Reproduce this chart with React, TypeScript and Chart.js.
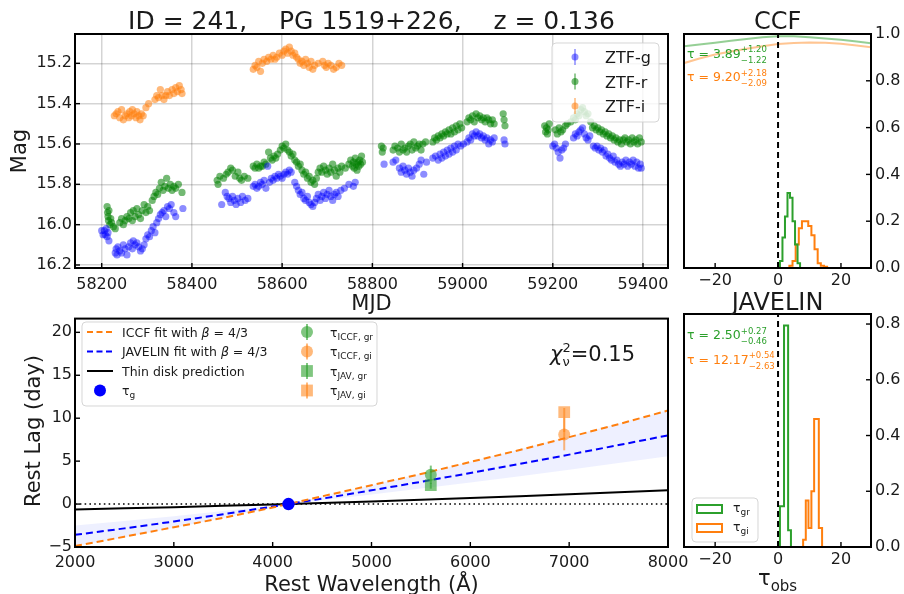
import React, { useEffect, useRef } from "react";
import { Chart, registerables } from "chart.js";

Chart.register(...registerables);

const FAMILY = "'DejaVu Sans', 'Liberation Sans', sans-serif";
const INK = "#1a1a1a";
const GREEN = "#2ca02c";
const ORANGE = "#ff7f0e";
const BLUE = "#0000ff";

// ---------- source ----------
const OBJ_ID = 241;
const OBJ_NAME = "PG 1519+226";
const REDSHIFT = 0.136;

// ---------- ZTF light curves: [MJD, mag] ----------
const ZTF_G: [number, number][] = [
  [58200, 16.03], [58203, 16.05], [58206, 16.03], [58208, 16.05], [58210, 16.02], [58212, 16.06], [58214, 16.04], [58216, 16.08],
  [58230, 16.14], [58232, 16.12], [58234, 16.15], [58236, 16.11], [58240, 16.13], [58244, 16.14], [58248, 16.1], [58252, 16.12],
  [58256, 16.15], [58260, 16.11], [58264, 16.09], [58268, 16.12], [58270, 16.08], [58274, 16.1], [58278, 16.09], [58282, 16.11],
  [58286, 16.13], [58290, 16.12], [58294, 16.1], [58298, 16.07], [58302, 16.05], [58306, 16.06], [58310, 16.03], [58314, 16.01],
  [58318, 16.04], [58322, 15.99], [58326, 15.97], [58330, 15.95], [58334, 15.94], [58338, 15.93], [58342, 15.96], [58346, 15.91],
  [58350, 15.92], [58354, 15.9], [58360, 15.94], [58364, 15.96], [58380, 15.92],
  [58466, 15.9], [58474, 15.84], [58478, 15.86], [58482, 15.87], [58486, 15.89], [58490, 15.86], [58494, 15.88], [58498, 15.9],
  [58502, 15.87], [58508, 15.89], [58512, 15.86], [58518, 15.88], [58524, 15.87], [58536, 15.81], [58540, 15.8], [58544, 15.82],
  [58548, 15.81], [58552, 15.79], [58556, 15.8], [58560, 15.78], [58564, 15.82], [58568, 15.71], [58572, 15.79], [58576, 15.77],
  [58580, 15.78], [58584, 15.76], [58588, 15.77], [58592, 15.75], [58596, 15.76], [58600, 15.77], [58604, 15.75], [58608, 15.74],
  [58612, 15.75], [58616, 15.73], [58620, 15.74], [58628, 15.79], [58632, 15.81], [58636, 15.83], [58640, 15.85], [58644, 15.84],
  [58648, 15.87], [58652, 15.88], [58656, 15.86], [58660, 15.89], [58664, 15.9], [58668, 15.91], [58672, 15.89], [58676, 15.87],
  [58680, 15.85], [58684, 15.88], [58688, 15.86], [58692, 15.84], [58696, 15.87], [58700, 15.85], [58704, 15.83], [58708, 15.86],
  [58712, 15.88], [58716, 15.85], [58720, 15.84], [58724, 15.86], [58730, 15.83], [58738, 15.82], [58748, 15.8], [58758, 15.81],
  [58762, 15.79],
  [58826, 15.7], [58846, 15.69], [58852, 15.68], [58860, 15.72], [58864, 15.74], [58868, 15.71], [58872, 15.73], [58876, 15.75],
  [58880, 15.72], [58884, 15.74], [58888, 15.76], [58892, 15.73], [58898, 15.72], [58904, 15.7], [58908, 15.68], [58914, 15.75],
  [58920, 15.69], [58934, 15.67], [58940, 15.66], [58946, 15.68], [58950, 15.65], [58954, 15.67], [58958, 15.64], [58962, 15.66],
  [58966, 15.63], [58970, 15.65], [58974, 15.62], [58978, 15.64], [58982, 15.61], [58986, 15.63], [58990, 15.6], [58996, 15.61],
  [59002, 15.6], [59010, 15.59], [59014, 15.57], [59018, 15.58], [59022, 15.55], [59026, 15.56], [59030, 15.54], [59034, 15.56],
  [59038, 15.55], [59042, 15.57], [59046, 15.56], [59050, 15.58], [59054, 15.57], [59058, 15.6], [59062, 15.58], [59066, 15.59],
  [59070, 15.57], [59092, 15.58], [59094, 15.6],
  [59200, 15.61], [59204, 15.6], [59208, 15.62], [59212, 15.64], [59216, 15.67], [59220, 15.63], [59224, 15.62], [59228, 15.6],
  [59246, 15.57], [59250, 15.55], [59254, 15.56], [59258, 15.54], [59262, 15.53], [59266, 15.52], [59270, 15.55], [59274, 15.57],
  [59278, 15.58], [59282, 15.56], [59290, 15.61], [59294, 15.62], [59298, 15.61], [59302, 15.63], [59306, 15.62], [59310, 15.64],
  [59314, 15.63], [59318, 15.66], [59322, 15.65], [59326, 15.67], [59330, 15.68], [59334, 15.66], [59338, 15.69], [59342, 15.68],
  [59346, 15.7], [59350, 15.71], [59354, 15.69], [59358, 15.7], [59362, 15.68], [59366, 15.71], [59370, 15.69], [59374, 15.7],
  [59378, 15.68], [59382, 15.71], [59386, 15.69], [59390, 15.72], [59394, 15.7], [59396, 15.72],
];

const ZTF_R: [number, number][] = [
  [58212, 15.91], [58213, 15.94], [58214, 15.96], [58215, 15.98], [58216, 15.93], [58218, 16.0], [58220, 15.97], [58222, 15.99],
  [58226, 16.01], [58230, 16.02], [58240, 15.99], [58244, 15.97], [58248, 16.0], [58252, 15.98], [58256, 15.96], [58260, 15.97],
  [58264, 15.94], [58268, 15.98], [58270, 15.93], [58274, 15.96], [58278, 15.92], [58282, 15.95], [58286, 15.97], [58290, 15.93],
  [58294, 15.9], [58298, 15.94], [58302, 15.91], [58306, 15.93], [58312, 15.88], [58316, 15.86], [58320, 15.84], [58324, 15.85],
  [58328, 15.82], [58332, 15.79], [58336, 15.83], [58340, 15.81], [58344, 15.77], [58348, 15.82], [58352, 15.8], [58356, 15.83],
  [58360, 15.81], [58364, 15.82], [58370, 15.8], [58378, 15.84],
  [58456, 15.78], [58458, 15.8], [58462, 15.76], [58470, 15.77], [58476, 15.75], [58480, 15.74], [58486, 15.72], [58490, 15.73],
  [58496, 15.76], [58502, 15.74], [58506, 15.77], [58510, 15.78], [58516, 15.76], [58524, 15.77], [58536, 15.71], [58540, 15.72],
  [58544, 15.7], [58548, 15.72], [58552, 15.71], [58556, 15.71], [58560, 15.69], [58564, 15.7], [58570, 15.64], [58574, 15.67],
  [58578, 15.68], [58582, 15.66], [58586, 15.67], [58590, 15.65], [58596, 15.63], [58600, 15.61], [58604, 15.62], [58608, 15.6],
  [58612, 15.63], [58616, 15.64], [58620, 15.66], [58624, 15.65], [58628, 15.68], [58632, 15.69], [58636, 15.71], [58640, 15.7],
  [58644, 15.73], [58648, 15.75], [58652, 15.74], [58656, 15.77], [58660, 15.76], [58664, 15.79], [58668, 15.78], [58672, 15.8],
  [58676, 15.77], [58680, 15.74], [58684, 15.72], [58688, 15.74], [58692, 15.71], [58696, 15.73], [58700, 15.75], [58704, 15.72],
  [58708, 15.74], [58712, 15.7], [58716, 15.73], [58720, 15.76], [58724, 15.72], [58728, 15.74], [58732, 15.71], [58740, 15.72],
  [58748, 15.7], [58752, 15.68], [58756, 15.71], [58758, 15.69], [58760, 15.72], [58762, 15.67], [58764, 15.7], [58766, 15.73],
  [58768, 15.69], [58770, 15.71], [58772, 15.68], [58774, 15.7], [58776, 15.66], [58778, 15.69],
  [58820, 15.61], [58822, 15.64], [58824, 15.62], [58846, 15.63], [58850, 15.61], [58856, 15.62], [58860, 15.64], [58864, 15.6],
  [58868, 15.63], [58872, 15.62], [58876, 15.64], [58880, 15.61], [58884, 15.6], [58888, 15.63], [58892, 15.59], [58896, 15.62],
  [58900, 15.61], [58904, 15.6], [58908, 15.63], [58912, 15.6], [58918, 15.59], [58934, 15.59], [58938, 15.57], [58942, 15.58],
  [58946, 15.56], [58950, 15.57], [58954, 15.55], [58958, 15.56], [58962, 15.54], [58966, 15.55], [58970, 15.53], [58974, 15.55],
  [58978, 15.52], [58982, 15.54], [58986, 15.51], [58990, 15.53], [58994, 15.5], [58998, 15.52], [59010, 15.49], [59014, 15.47],
  [59018, 15.48], [59022, 15.46], [59026, 15.49], [59030, 15.45], [59034, 15.47], [59038, 15.46], [59042, 15.48], [59046, 15.47],
  [59050, 15.49], [59054, 15.47], [59058, 15.48], [59062, 15.5], [59066, 15.48], [59070, 15.5], [59090, 15.45], [59092, 15.48],
  [59094, 15.51],
  [59182, 15.51], [59184, 15.54], [59186, 15.52], [59188, 15.55], [59190, 15.53], [59192, 15.5], [59206, 15.53], [59210, 15.55],
  [59214, 15.52], [59218, 15.54], [59222, 15.53], [59228, 15.51], [59232, 15.5], [59240, 15.49], [59246, 15.47], [59250, 15.48],
  [59254, 15.45], [59258, 15.46], [59262, 15.43], [59266, 15.42], [59270, 15.44], [59274, 15.46], [59278, 15.45], [59284, 15.49],
  [59288, 15.52], [59292, 15.51], [59296, 15.53], [59300, 15.52], [59304, 15.54], [59308, 15.53], [59312, 15.55], [59316, 15.54],
  [59320, 15.56], [59324, 15.55], [59328, 15.57], [59332, 15.56], [59336, 15.58], [59340, 15.57], [59344, 15.59], [59348, 15.58],
  [59352, 15.6], [59356, 15.58], [59360, 15.57], [59364, 15.59], [59368, 15.58], [59372, 15.6], [59376, 15.57], [59380, 15.59],
  [59384, 15.58], [59388, 15.6], [59392, 15.57], [59396, 15.59],
];

const ZTF_I: [number, number][] = [
  [58228, 15.46], [58232, 15.45], [58236, 15.44], [58240, 15.47], [58244, 15.43], [58248, 15.48], [58252, 15.46], [58256, 15.45],
  [58260, 15.47], [58262, 15.44], [58266, 15.46], [58268, 15.43], [58272, 15.45], [58276, 15.47], [58278, 15.44], [58282, 15.46],
  [58285, 15.48], [58288, 15.45], [58292, 15.46], [58298, 15.42], [58304, 15.4], [58318, 15.38], [58322, 15.36], [58326, 15.37],
  [58330, 15.33], [58334, 15.36], [58338, 15.38], [58342, 15.36], [58346, 15.34], [58350, 15.36], [58356, 15.33], [58360, 15.35],
  [58364, 15.32], [58368, 15.34], [58372, 15.31], [58376, 15.33], [58378, 15.35],
  [58536, 15.23], [58540, 15.21], [58544, 15.22], [58548, 15.19], [58552, 15.24], [58556, 15.2], [58560, 15.18], [58566, 15.19],
  [58570, 15.17], [58575, 15.18], [58580, 15.16], [58584, 15.18], [58588, 15.17], [58594, 15.15], [58600, 15.16], [58604, 15.14],
  [58608, 15.13], [58612, 15.15], [58616, 15.12], [58620, 15.14], [58624, 15.16], [58628, 15.15], [58632, 15.17], [58636, 15.18],
  [58640, 15.2], [58644, 15.19], [58648, 15.21], [58652, 15.18], [58656, 15.2], [58660, 15.22], [58664, 15.19], [58668, 15.23],
  [58672, 15.21], [58680, 15.2], [58690, 15.19], [58694, 15.21], [58698, 15.22], [58702, 15.2], [58708, 15.21], [58714, 15.23],
  [58720, 15.22], [58726, 15.2], [58732, 15.21],
];

const MJD_TICKS = [58200, 58400, 58600, 58800, 59000, 59200, 59400];
const MAG_TICKS = [15.2, 15.4, 15.6, 15.8, 16.0, 16.2];

// ---------- CCF panel ----------
const CCF_LAGS = [-30, -25, -20, -15, -10, -5, 0, 5, 10, 15, 20, 25, 30];
const CCF_GR = [0.947, 0.955, 0.963, 0.971, 0.979, 0.986, 0.99, 0.99, 0.986, 0.981, 0.975, 0.968, 0.96];
const CCF_GI = [0.875, 0.895, 0.912, 0.925, 0.937, 0.948, 0.957, 0.962, 0.964, 0.963, 0.958, 0.951, 0.943];
const CCF_EDGES_GR = [0.6, 1.4, 2.2, 3.0, 3.8, 4.6, 5.4, 6.2, 7.0];
const CCF_DENS_GR = [0.03, 0.13, 0.22, 0.32, 0.3, 0.2, 0.1, 0.02];
const CCF_EDGES_GI = [3.6, 4.6, 5.6, 6.6, 7.6, 8.6, 9.6, 10.6, 11.6, 12.6, 13.6, 14.6, 15.6];
const CCF_DENS_GI = [0.01, 0.03, 0.1, 0.17, 0.2, 0.2, 0.18, 0.14, 0.08, 0.02, 0.01, 0.005];
const CCF_TAU_GR = [3.89, 1.2, 1.22];
const CCF_TAU_GI = [9.2, 2.18, 2.09];
const OBS_LAG_TICKS = [-20, 0, 20];
const CCF_Y_TICKS = [0, 0.2, 0.4, 0.6, 0.8, 1.0];

// ---------- JAVELIN panel ----------
const JAV_EDGES_GR = [0.6, 1.9, 3.2, 4.1];
const JAV_DENS_GR = [0.146, 0.795, 0.06];
const JAV_EDGES_GI = [7.97, 8.82, 9.67, 10.6, 11.47, 12.96, 14.0];
const JAV_DENS_GI = [0.026, 0.167, 0.068, 0.2, 0.459, 0.068];
const JAV_TAU_GR = [2.5, 0.27, 0.46];
const JAV_TAU_GI = [12.17, 0.54, 2.63];
const JAV_Y_TICKS = [0, 0.2, 0.4, 0.6, 0.8];

// ---------- lag vs wavelength ----------
const LAM_GRID = [2000, 2500, 3000, 3500, 4000, 4500, 5000, 5500, 6000, 6500, 7000, 7500, 8000];
const ICCF_FIT = [-4.9, -3.8, -2.7, -1.6, -0.4, 0.9, 2.2, 3.5, 4.9, 6.3, 7.8, 9.3, 10.9];
const JAV_FIT = [-3.58, -2.83, -2.03, -1.18, -0.29, 0.63, 1.6, 2.59, 3.62, 4.68, 5.76, 6.87, 8.0];
const JAV_BAND_A = [-2.49, -1.97, -1.41, -0.82, -0.2, 0.44, 1.11, 1.8, 2.52, 3.25, 4.01, 4.78, 5.57];
const JAV_BAND_B = [-4.89, -3.87, -2.77, -1.61, -0.4, 0.87, 2.18, 3.54, 4.94, 6.38, 7.86, 9.38, 10.92];
const THIN_DISK = [-0.62, -0.5, -0.36, -0.21, -0.05, 0.12, 0.3, 0.5, 0.7, 0.92, 1.14, 1.37, 1.6];
const LAM_G = 4160;
const LAM_R = 5600;
const LAM_I = 6950;
const CHI2_NU = 0.15;
const WAVE_TICKS = [2000, 3000, 4000, 5000, 6000, 7000, 8000];
const REST_LAG_TICKS = [-5, 0, 5, 10, 15, 20];

// ---------- drawing helpers ----------
type Seg = { t?: string; sup?: string; sub?: string; size: number; italic?: boolean; dy?: number; supDy?: number; subDy?: number };
type Label = { x: number; y: number; segs: Seg[]; align?: "left" | "center" | "right"; color?: string; rot?: number };

const fontOf = (size: number, italic?: boolean) => `${italic ? "italic " : ""}${size}px ${FAMILY}`;
const minus = (s: string) => s.replace(/-/g, "\u2212");

function segWidth(ctx: any, s: Seg) {
  ctx.font = fontOf(s.size, s.italic);
  if (s.t !== undefined) return ctx.measureText(s.t).width;
  return Math.max(s.sup ? ctx.measureText(s.sup).width : 0, s.sub ? ctx.measureText(s.sub).width : 0);
}

function drawRich(ctx: any, l: Label) {
  ctx.save();
  ctx.translate(l.x, l.y);
  if (l.rot) ctx.rotate(l.rot);
  const total = l.segs.reduce((a, s) => a + segWidth(ctx, s), 0);
  let cx = l.align === "center" ? -total / 2 : l.align === "right" ? -total : 0;
  ctx.fillStyle = l.color || INK;
  ctx.textAlign = "left";
  ctx.textBaseline = "alphabetic";
  for (const s of l.segs) {
    const w = segWidth(ctx, s);
    ctx.font = fontOf(s.size, s.italic);
    if (s.t !== undefined) ctx.fillText(s.t, cx, s.dy || 0);
    else {
      if (s.sup) ctx.fillText(s.sup, cx, s.supDy || 0);
      if (s.sub) ctx.fillText(s.sub, cx, s.subDy || 0);
    }
    cx += w;
  }
  ctx.restore();
}

function tauLabel(x: number, y: number, tau: number[], color: string): Label {
  return {
    x, y, color,
    segs: [
      { t: `\u03c4 = ${tau[0].toFixed(2)}`, size: 12.5 },
      { sup: `+${tau[1].toFixed(2)}`, sub: `\u2212${tau[2].toFixed(2)}`, size: 8.5, supDy: -5.5, subDy: 5 },
    ],
  };
}

function legendBox(ctx: any, x: number, y: number, w: number, h: number) {
  ctx.save();
  ctx.beginPath();
  if (ctx.roundRect) ctx.roundRect(x, y, w, h, 4);
  else ctx.rect(x, y, w, h);
  ctx.fillStyle = "rgba(255,255,255,0.8)";
  ctx.fill();
  ctx.strokeStyle = "rgba(204,204,204,0.8)";
  ctx.lineWidth = 1;
  ctx.stroke();
  ctx.restore();
}

function stepOutline(edges: number[], dens: number[]) {
  const pts = [{ x: edges[0], y: 0 }];
  dens.forEach((h, i) => {
    pts.push({ x: edges[i], y: h });
    pts.push({ x: edges[i + 1], y: h });
  });
  pts.push({ x: edges[edges.length - 1], y: 0 });
  return pts;
}

function axis(min: number, max: number, ticks: number[], fmt: (v: number) => string, fit: { w?: number; h?: number }, extra: any = {}) {
  return {
    type: "linear",
    min,
    max,
    ...extra,
    afterBuildTicks: (s: any) => {
      s.ticks = ticks.map((v) => ({ value: v }));
    },
    afterFit: (s: any) => {
      if (fit.w !== undefined) s.width = fit.w;
      if (fit.h !== undefined) s.height = fit.h;
    },
    grid: extra.grid || { display: false, drawTicks: false },
    border: { display: false },
    ticks: {
      font: { family: FAMILY, size: 16 },
      color: INK,
      padding: extra.tickPad ?? 3,
      autoSkip: false,
      maxRotation: 0,
      callback: (v: any) => minus(fmt(Number(v))),
    },
  };
}

function baseOptions(padding: any, scales: any) {
  return {
    responsive: false,
    maintainAspectRatio: false,
    animation: false,
    devicePixelRatio: 1,
    events: [],
    layout: { padding },
    plugins: { legend: { display: false }, tooltip: { enabled: false }, title: { display: false } },
    scales,
  };
}

// frame, inward ticks, labels, and an optional overlay drawn above the data
function decor(id: string, ox: number, oy: number, labels: Label[], overlay?: (chart: any) => void) {
  return {
    id,
    afterDatasetsDraw(chart: any) {
      if (overlay) overlay(chart);
    },
    afterDraw(chart: any) {
      const { ctx, chartArea: a } = chart;
      ctx.save();
      ctx.strokeStyle = "#000";
      ctx.lineWidth = 1.4;
      for (const sc of Object.values(chart.scales) as any[]) {
        for (const t of sc.ticks) {
          const p = sc.getPixelForValue(t.value);
          ctx.beginPath();
          if (sc.isHorizontal()) {
            ctx.moveTo(p, a.bottom);
            ctx.lineTo(p, a.bottom - 5);
          } else if (sc.position === "left") {
            ctx.moveTo(a.left, p);
            ctx.lineTo(a.left + 5, p);
          } else {
            ctx.moveTo(a.right, p);
            ctx.lineTo(a.right - 5, p);
          }
          ctx.stroke();
        }
      }
      ctx.lineWidth = 2;
      ctx.strokeRect(a.left, a.top, a.right - a.left, a.bottom - a.top);
      ctx.restore();
      for (const l of labels) drawRich(ctx, { ...l, x: l.x - ox, y: l.y - oy });
    },
  };
}

// ---------- panel: light curves ----------
function lightCurveConfig(ox: number, oy: number): any {
  const bands = [
    { label: "ZTF-g", pts: ZTF_G, color: "rgba(0,0,255,0.45)" },
    { label: "ZTF-r", pts: ZTF_R, color: "rgba(0,128,0,0.55)" },
    { label: "ZTF-i", pts: ZTF_I, color: "rgba(255,127,14,0.55)" },
  ];
  const overlay = (chart: any) => {
    const ctx = chart.ctx;
    legendBox(ctx, 552 - ox, 43 - oy, 107, 79);
    bands.forEach((b, i) => {
      const y = 57 + i * 24.5 - oy;
      const x = 575 - ox;
      ctx.save();
      ctx.strokeStyle = b.color;
      ctx.lineWidth = 1.5;
      ctx.beginPath();
      ctx.moveTo(x, y - 8);
      ctx.lineTo(x, y + 8);
      ctx.stroke();
      ctx.fillStyle = b.color;
      ctx.beginPath();
      ctx.arc(x, y, 3.5, 0, Math.PI * 2);
      ctx.fill();
      ctx.restore();
      drawRich(ctx, { x: 605 - ox, y: y + 6, segs: [{ t: b.label, size: 16 }] });
    });
  };
  const labels: Label[] = [
    { x: 371.5, y: 29, align: "center", segs: [{ t: `ID = ${OBJ_ID},    ${OBJ_NAME},    z = ${REDSHIFT.toFixed(3)}`, size: 25 }] },
    { x: 26, y: 151, align: "center", rot: -Math.PI / 2, segs: [{ t: "Mag", size: 21 }] },
    { x: 371.5, y: 310, align: "center", segs: [{ t: "MJD", size: 21 }] },
  ];
  const grid = { display: true, color: "rgba(0,0,0,0.17)", lineWidth: 1.5, drawTicks: false };
  return {
    type: "scatter",
    data: {
      datasets: bands.map((b) => ({
        label: b.label,
        data: b.pts.map(([x, y]) => ({ x, y })),
        backgroundColor: b.color,
        borderWidth: 0,
        pointRadius: 3.6,
        pointHoverRadius: 3.6,
      })),
    },
    options: baseOptions(
      { left: 0, top: 34, right: 12, bottom: 0 },
      {
        x: axis(58140.8, 59455.4, MJD_TICKS, (v) => String(v), { h: 48 }, { grid, tickPad: 7 }),
        y: axis(15.0547, 16.2149, MAG_TICKS, (v) => v.toFixed(1), { w: 75 }, { grid, reverse: true }),
      }
    ),
    plugins: [decor("lcDecor", ox, oy, labels, overlay)],
  };
}

// ---------- panels: lag distributions ----------
function zeroLine(ymax: number) {
  return {
    data: [{ x: 0, y: 0 }, { x: 0, y: ymax }],
    borderColor: "#000",
    borderWidth: 2,
    borderDash: [6, 4],
    pointRadius: 0,
    showLine: true,
  };
}
function histLine(edges: number[], dens: number[], color: string) {
  return { data: stepOutline(edges, dens), borderColor: color, borderWidth: 2, pointRadius: 0, showLine: true };
}

function ccfConfig(ox: number, oy: number): any {
  const labels: Label[] = [
    { x: 777.6, y: 29, align: "center", segs: [{ t: "CCF", size: 24 }] },
    tauLabel(687, 57.5, CCF_TAU_GR, GREEN),
    tauLabel(687, 81, CCF_TAU_GI, ORANGE),
  ];
  return {
    type: "scatter",
    data: {
      datasets: [
        zeroLine(1),
        histLine(CCF_EDGES_GR, CCF_DENS_GR, GREEN),
        histLine(CCF_EDGES_GI, CCF_DENS_GI, ORANGE),
        { data: CCF_LAGS.map((x, i) => ({ x, y: CCF_GR[i] })), borderColor: "rgba(44,160,44,0.5)", borderWidth: 2, pointRadius: 0, showLine: true },
        { data: CCF_LAGS.map((x, i) => ({ x, y: CCF_GI[i] })), borderColor: "rgba(255,127,14,0.45)", borderWidth: 2, pointRadius: 0, showLine: true },
      ],
    },
    options: baseOptions(
      { left: 8, top: 34, right: 0, bottom: 0 },
      {
        x: axis(-29.9, 29.55, OBS_LAG_TICKS, (v) => String(v), { h: 24 }),
        y: axis(0, 1, CCF_Y_TICKS, (v) => v.toFixed(1), { w: 33 }, { position: "right", tickPad: 4 }),
      }
    ),
    plugins: [decor("ccfDecor", ox, oy, labels)],
  };
}

function javelinConfig(ox: number, oy: number): any {
  const labels: Label[] = [
    { x: 777.6, y: 310, align: "center", segs: [{ t: "JAVELIN", size: 24 }] },
    tauLabel(687, 339, JAV_TAU_GR, GREEN),
    tauLabel(687, 363.5, JAV_TAU_GI, ORANGE),
    { x: 777.6, y: 585, align: "center", segs: [{ t: "\u03c4", size: 21 }, { t: "obs", size: 15, dy: 6 }] },
  ];
  const overlay = (chart: any) => {
    const ctx = chart.ctx;
    legendBox(ctx, 692 - ox, 498 - oy, 66, 44);
    [[GREEN, "gr"], [ORANGE, "gi"]].forEach(([c, s], i) => {
      const y = 509 + i * 19 - oy;
      ctx.save();
      ctx.strokeStyle = c;
      ctx.lineWidth = 2;
      ctx.strokeRect(697 - ox, y - 4, 25, 8);
      ctx.restore();
      drawRich(ctx, { x: 733 - ox, y: y + 3, segs: [{ t: "\u03c4", size: 12.5 }, { t: s, size: 9, dy: 3 }] });
    });
  };
  return {
    type: "scatter",
    data: {
      datasets: [
        zeroLine(1),
        histLine(JAV_EDGES_GR, JAV_DENS_GR, GREEN),
        histLine(JAV_EDGES_GI, JAV_DENS_GI, ORANGE),
      ],
    },
    options: baseOptions(
      { left: 8, top: 22, right: 0, bottom: 0 },
      {
        x: axis(-29.9, 29.55, OBS_LAG_TICKS, (v) => String(v), { h: 47 }),
        y: axis(0, 0.836, JAV_Y_TICKS, (v) => v.toFixed(1), { w: 33 }, { position: "right", tickPad: 4 }),
      }
    ),
    plugins: [decor("javDecor", ox, oy, labels, overlay)],
  };
}

// ---------- panel: rest-frame lag vs wavelength ----------
function lagConfig(ox: number, oy: number): any {
  const rest = (v: number) => v / (1 + REDSHIFT);
  const greenA = "rgba(44,160,44,0.6)";
  const orangeA = "rgba(255,127,14,0.55)";
  const points = [
    { lam: LAM_R, tau: CCF_TAU_GR, color: greenA, style: "circle", r: 6 },
    { lam: LAM_I, tau: CCF_TAU_GI, color: orangeA, style: "circle", r: 6 },
    { lam: LAM_R, tau: JAV_TAU_GR, color: greenA, style: "rect", r: 8.3 },
    { lam: LAM_I, tau: JAV_TAU_GI, color: orangeA, style: "rect", r: 8.3 },
  ];
  const curve = (ys: number[]) => LAM_GRID.map((x, i) => ({ x, y: ys[i] }));
  const overlay = (chart: any) => {
    const ctx = chart.ctx;
    const xs = chart.scales.x;
    const ys = chart.scales.y;
    // error bars
    for (const p of points) {
      const px = xs.getPixelForValue(p.lam);
      ctx.save();
      ctx.strokeStyle = p.color;
      ctx.lineWidth = 2;
      ctx.beginPath();
      ctx.moveTo(px, ys.getPixelForValue(rest(p.tau[0] + p.tau[1])));
      ctx.lineTo(px, ys.getPixelForValue(rest(p.tau[0] - p.tau[2])));
      ctx.stroke();
      ctx.restore();
    }
    // legend
    const X = (v: number) => v - ox;
    const Y = (v: number) => v - oy;
    legendBox(ctx, X(82), Y(322), 295, 84);
    const rows = [332, 351.5, 371, 390.5];
    const lines: [string, number[]][] = [[ORANGE, [6, 3.5]], [BLUE, [6, 3.5]], ["#000", []]];
    lines.forEach(([c, d], i) => {
      ctx.save();
      ctx.strokeStyle = c;
      ctx.lineWidth = 2;
      ctx.setLineDash(d);
      ctx.beginPath();
      ctx.moveTo(X(87), Y(rows[i]));
      ctx.lineTo(X(113), Y(rows[i]));
      ctx.stroke();
      ctx.restore();
    });
    ctx.save();
    ctx.fillStyle = BLUE;
    ctx.beginPath();
    ctx.arc(X(100), Y(rows[3]), 6, 0, Math.PI * 2);
    ctx.fill();
    ctx.restore();
    const fs = 12.5;
    const left: Seg[][] = [
      [{ t: "ICCF fit with ", size: fs }, { t: "\u03b2", size: fs, italic: true }, { t: " = 4/3", size: fs }],
      [{ t: "JAVELIN fit with ", size: fs }, { t: "\u03b2", size: fs, italic: true }, { t: " = 4/3", size: fs }],
      [{ t: "Thin disk prediction", size: fs }],
      [{ t: "\u03c4", size: fs }, { t: "g", size: 9, dy: 3 }],
    ];
    left.forEach((segs, i) => drawRich(ctx, { x: X(122), y: Y(rows[i] + 4.5), segs }));
    const subs = ["ICCF, gr", "ICCF, gi", "JAV, gr", "JAV, gi"];
    points.forEach((p, i) => {
      const x = X(307);
      const y = Y(rows[i]);
      ctx.save();
      ctx.strokeStyle = p.color;
      ctx.lineWidth = 2;
      ctx.beginPath();
      ctx.moveTo(x, y - 8);
      ctx.lineTo(x, y + 8);
      ctx.stroke();
      ctx.fillStyle = p.color;
      ctx.beginPath();
      if (p.style === "circle") ctx.arc(x, y, 6, 0, Math.PI * 2);
      else ctx.rect(x - 5.9, y - 5.9, 11.8, 11.8);
      ctx.fill();
      ctx.restore();
      drawRich(ctx, { x: X(330), y: Y(rows[i] + 4.5), segs: [{ t: "\u03c4", size: fs }, { t: subs[i], size: 9, dy: 3 }] });
    });
  };
  const labels: Label[] = [
    { x: 39.5, y: 431, align: "center", rot: -Math.PI / 2, segs: [{ t: "Rest Lag (day)", size: 21 }] },
    { x: 371.5, y: 591, align: "center", segs: [{ t: "Rest Wavelength (\u00c5)", size: 21 }] },
    {
      x: 550, y: 360.5,
      segs: [
        { t: "\u03c7", size: 21, italic: true },
        { sup: "2", sub: "\u03bd", size: 13, supDy: -9, subDy: 5 },
        { t: `=${CHI2_NU.toFixed(2)}`, size: 21 },
      ],
    },
  ];
  const line = (ys: number[], color: string, dash: number[], w = 2) => ({
    data: curve(ys), borderColor: color, borderWidth: w, borderDash: dash, pointRadius: 0, showLine: true, fill: false,
  });
  return {
    type: "line",
    data: {
      datasets: [
        { data: [{ x: LAM_G, y: 0 }], pointStyle: "circle", pointRadius: 6.2, backgroundColor: BLUE, borderWidth: 0, showLine: false },
        ...points.map((p) => ({
          data: [{ x: p.lam, y: rest(p.tau[0]) }],
          pointStyle: p.style,
          pointRadius: p.r,
          backgroundColor: p.color,
          borderWidth: 0,
          showLine: false,
        })),
        line(ICCF_FIT, ORANGE, [7, 4]),
        line(JAV_FIT, BLUE, [7, 4]),
        line(THIN_DISK, "#000", []),
        {
          data: [{ x: LAM_GRID[0], y: 0 }, { x: LAM_GRID[LAM_GRID.length - 1], y: 0 }],
          borderColor: "#000", borderWidth: 1.6, borderDash: [1.6, 3.2], pointRadius: 0, showLine: true, fill: false,
        },
        { data: curve(JAV_BAND_A), borderWidth: 0, pointRadius: 0, showLine: true, fill: false },
        { data: curve(JAV_BAND_B), borderWidth: 0, pointRadius: 0, showLine: true, fill: "-1", backgroundColor: "rgba(40,60,255,0.08)" },
      ],
    },
    options: baseOptions(
      { left: 0, top: 8, right: 32, bottom: 0 },
      {
        x: axis(2000, 8000, WAVE_TICKS, (v) => String(v), { h: 47 }, { tickPad: 6 }),
        y: axis(-5, 21.6, REST_LAG_TICKS, (v) => String(v), { w: 75 }),
      }
    ),
    plugins: [decor("lagDecor", ox, oy, labels, overlay)],
  };
}

function Panel({ left, top, width, height, build }: any) {
  const ref = useRef<HTMLCanvasElement>(null);
  useEffect(() => {
    const chart = new Chart(ref.current as HTMLCanvasElement, build(left, top));
    return () => chart.destroy();
  }, []);
  return <canvas ref={ref} width={width} height={height} style={{ position: "absolute", left, top, width, height }} />;
}

export default function App() {
  return (
    <div style={{ position: "fixed", left: 0, top: 0, width: 904, height: 594, background: "#fff", overflow: "hidden" }}>
      <Panel left={0} top={0} width={680} height={316} build={lightCurveConfig} />
      <Panel left={676} top={0} width={228} height={292} build={ccfConfig} />
      <Panel left={0} top={306} width={700} height={288} build={lagConfig} />
      <Panel left={676} top={292} width={228} height={302} build={javelinConfig} />
    </div>
  );
}
